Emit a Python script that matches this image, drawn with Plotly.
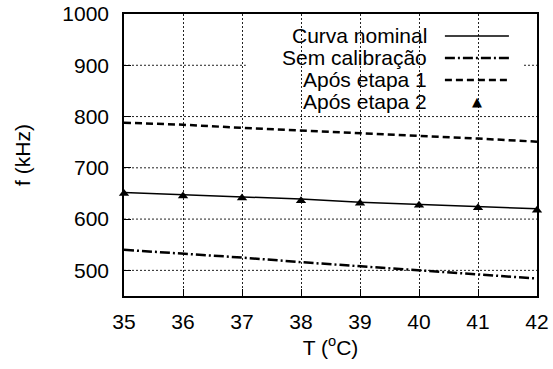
import plotly.graph_objects as go

temps = [35, 36, 37, 38, 39, 40, 41, 42]
nominal = [652, 648, 643, 639, 633, 629, 625, 620]
sem_calib = [540, 533, 525, 516, 508, 501, 493, 484]
etapa1 = [788, 784, 778, 773, 767, 762, 757, 751]
etapa2 = [650, 645, 641, 636, 631, 627, 622, 617]

legend_names = ["Curva nominal", "Sem calibração", "Após etapa 1", "Após etapa 2"]
x_ticks = [35, 36, 37, 38, 39, 40, 41, 42]
y_ticks = [500, 600, 700, 800, 900, 1000]

FONT = "Liberation Sans, Arial, sans-serif"
FS = 21

fig = go.Figure()
fig.add_trace(go.Scatter(x=temps, y=nominal, mode="lines",
                         line=dict(color="black", width=1.5), showlegend=False))
fig.add_trace(go.Scatter(x=temps, y=sem_calib, mode="lines",
                         line=dict(color="black", width=2.5, dash="10px,3px,2px,3px"), showlegend=False))
fig.add_trace(go.Scatter(x=temps, y=etapa1, mode="lines",
                         line=dict(color="black", width=2.5, dash="7px,4px"), showlegend=False))
fig.add_trace(go.Scatter(x=temps, y=etapa2, mode="markers",
                         marker=dict(symbol="triangle-up", size=9, color="black"),
                         cliponaxis=False, showlegend=False))

# horizontal dotted grid lines at the y tick values
for yv in y_ticks[:-1]:
    fig.add_shape(type="line", xref="paper", yref="y", x0=0, x1=1, y0=yv, y1=yv,
                  line=dict(color="#222", width=1, dash="2px,2px"), layer="below")

# manual legend (gnuplot style: text right-aligned, sample on the right)
fig.add_shape(type="rect", xref="paper", yref="paper", x0=0.295, x1=0.964, y0=0.649, y1=0.968,
              fillcolor="white", line=dict(width=0), layer="between")
rows = [0.922, 0.844, 0.766, 0.691]
for name, yy in zip(legend_names, rows):
    fig.add_annotation(xref="paper", yref="paper", x=0.738, y=yy, text=name, showarrow=False,
                       xanchor="right", yanchor="middle", font=dict(family=FONT, size=FS, color="black"))
fig.add_shape(type="line", xref="paper", yref="paper", x0=0.777, x1=0.932, y0=rows[0], y1=rows[0],
              line=dict(color="black", width=1.5))
fig.add_shape(type="line", xref="paper", yref="paper", x0=0.777, x1=0.932, y0=rows[1], y1=rows[1],
              line=dict(color="black", width=2.5, dash="10px,3px,2px,3px"))
fig.add_shape(type="line", xref="paper", yref="paper", x0=0.777, x1=0.932, y0=rows[2], y1=rows[2],
              line=dict(color="black", width=2.5, dash="7px,4px"))
fig.add_annotation(xref="paper", yref="paper", x=0.855, y=rows[3], text="▲", showarrow=False,
                   xanchor="center", yanchor="middle", font=dict(family="DejaVu Sans", size=13, color="black"))

axis_common = dict(showline=True, linecolor="black", linewidth=1.5, mirror=True,
                   ticks="inside", ticklen=7, tickwidth=1.2, tickcolor="black",
                   gridcolor="#222", griddash="2px,2px", gridwidth=1,
                   zeroline=False, automargin=False,
                   tickfont=dict(family=FONT, size=FS, color="black"))

fig.update_xaxes(range=[35, 42], tickvals=x_ticks, ticklabelstandoff=6, showgrid=True,
                 title=dict(text="T (<sup>o</sup>C)", standoff=8,
                            font=dict(family=FONT, size=FS, color="black")), **axis_common)
fig.update_yaxes(range=[450, 1000], tickvals=y_ticks, ticklabelstandoff=9, showgrid=False,
                 title=dict(text="f (kHz)", standoff=26,
                            font=dict(family=FONT, size=FS, color="black")), **axis_common)

fig.update_layout(width=553, height=369, margin=dict(l=124, r=16, t=14, b=73),
                  plot_bgcolor="white", paper_bgcolor="white",
                  font=dict(family=FONT, size=FS, color="black"))

# remove the default 8px page margin so the figure fills the window exactly
fig.write_html("out.html", config={"displayModeBar": False},
               post_script="document.body.style.margin='0px';")
